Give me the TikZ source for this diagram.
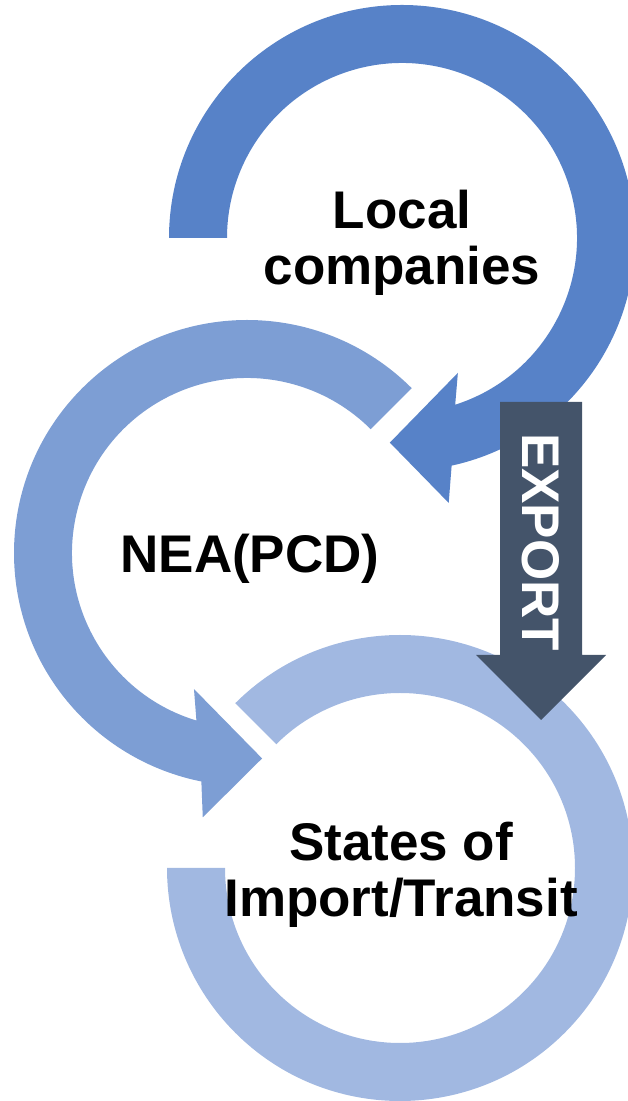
\documentclass[tikz,border=0pt]{standalone}
\usepackage{fontspec}
\setmainfont{Liberation Sans}
\usetikzlibrary{calc,positioning}
\definecolor{ringone}{RGB}{87,130,200}
\definecolor{ringtwo}{RGB}{125,158,212}
\definecolor{ringthree}{RGB}{161,184,225}
\definecolor{exportgray}{RGB}{68,84,106}

\begin{document}
\begin{tikzpicture}
[x=1pt, y=1pt, bigfont/.style={font=\fontsize{53}{56}\selectfont\bfseries}]
% Define styles for the stage labels and the export label
\tikzstyle{stage} = [bigfont, align=center, inner sep=0pt, text=black]
\tikzstyle{exportlabel} = [bigfont, inner sep=0pt, text=white, rotate=-90]

\useasboundingbox (0,0) rectangle (627,1101);

% Ring centres
\coordinate (c1) at (402,863);
\coordinate (c2) at (247,548);
\coordinate (c3) at (400,233);

% Top ring, clockwise, head to the left
\fill[ringone] ($(c1)+(180:233)$) arc[start angle=180, end angle=-77.7, radius=233]
  -- ($(c1)+(-80:269)$) -- ($(c1)+(-93.4:205)$) -- ($(c1)+(-67.5:146)$)
  -- ($(c1)+(-72.3:175)$) arc[start angle=-72.3, end angle=180, radius=175] -- cycle;

% Middle ring, counter-clockwise, head to the right
\fill[ringtwo] ($(c2)+(45:233)$) arc[start angle=45, end angle=258.7, radius=233]
  -- ($(c2)+(260.5:268)$) -- ($(c2)+(274.2:206)$) -- ($(c2)+(248.7:146)$)
  -- ($(c2)+(253.2:175)$) arc[start angle=253.2, end angle=45, radius=175] -- cycle;

% Bottom ring, no head
\fill[ringthree] ($(c3)+(135:233)$) arc[start angle=135, end angle=-180, radius=233]
  -- ($(c3)+(180:175)$) arc[start angle=-180, end angle=135, radius=175] -- cycle;

% Export arrow
\fill[exportgray] (500,699) -- (582,699) -- (582,446) -- (606,446) -- (541,381)
  -- (476,446) -- (500,446) -- cycle;

% Labels
\node[stage] (local) at (402,858) {Local\\companies};
\node[stage, anchor=base] (nea) at (250,528) {NEA(PCD)};
\node[stage] (states) at (401,226) {States of\\Import/Transit};
\node[exportlabel] (export) at (541,559) {EXPORT};
\end{tikzpicture}
\end{document}
